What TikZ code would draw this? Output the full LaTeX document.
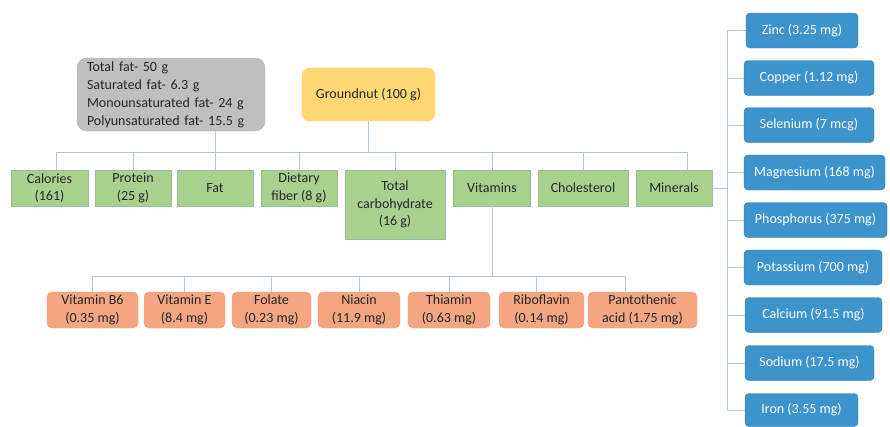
\documentclass[tikz,border=0pt]{standalone}
\usepackage{fontspec}
\setmainfont{Carlito}
\begin{document}
\begin{tikzpicture}[x=1pt,y=-1pt,
  every node/.style={font=\fontsize{14}{17.5}\selectfont, inner sep=0pt, align=center},
  gbox/.style={draw=green!35!black!40!white, fill=grfill, text=txt, minimum height=36pt},
  obox/.style={draw=orborder, fill=orfill, text=txt, rounded corners=5pt, minimum height=36pt},
  bbox/.style={draw=blborder, fill=blfill, text=white, rounded corners=4pt, minimum height=35pt},
  conn/.style={draw=lnclr, line width=1pt}]
\definecolor{grfill}{HTML}{A9D18E}
\definecolor{orfill}{HTML}{F4A582}
\definecolor{orborder}{HTML}{EE9A72}
\definecolor{blfill}{HTML}{3D94CC}
\definecolor{blborder}{HTML}{2E78B0}
\definecolor{lnclr}{HTML}{AFC8E8}
\definecolor{txt}{HTML}{262626}
\definecolor{gyfill}{HTML}{BFBFBF}
\definecolor{gnfill}{HTML}{FFD873}
\useasboundingbox (0,0) rectangle (890,426);
% top
\node[draw=gyfill!90!black, fill=gyfill, rounded corners=10pt, text=txt, minimum width=188pt, minimum height=73pt, align=left, text width=168pt, font=\fontsize{14}{18}\selectfont] (gray) at (171,94.5) {Total fat- 50 g\\Saturated fat- 6.3 g\\Monounsaturated fat- 24 g\\Polyunsaturated fat- 15.5 g};
\node[draw=gnfill!90!orange, fill=gnfill, rounded corners=8pt, text=txt, minimum width=133pt, minimum height=53pt] (gn) at (368.5,94.5) {Groundnut (100 g)};
% green row
\node[gbox, minimum width=77pt] (cal) at (49.5,188) {Calories\\(161)};
\node[gbox, minimum width=76pt] (pro) at (133,188) {Protein\\(25 g)};
\node[gbox, minimum width=76pt] (fat) at (215,188) {Fat};
\node[gbox, minimum width=76pt] (fib) at (299,188) {Dietary\\fiber (8 g)};
\node[gbox, minimum width=100pt, minimum height=69pt] (carb) at (395,204.5) {Total\\carbohydrate\\(16 g)};
\node[gbox, minimum width=77pt] (vit) at (492,188) {Vitamins};
\node[gbox, minimum width=90pt] (chol) at (583,188) {Cholesterol};
\node[gbox, minimum width=76pt] (min) at (674,188) {Minerals};
% orange row
\node[obox, minimum width=91pt] (b6) at (92.5,310) {Vitamin B6\\(0.35 mg)};
\node[obox, minimum width=81pt] (ve) at (184.5,310) {Vitamin E\\(8.4 mg)};
\node[obox, minimum width=79pt] (fol) at (271.5,310) {Folate\\(0.23 mg)};
\node[obox, minimum width=82pt] (nia) at (359,310) {Niacin\\(11.9 mg)};
\node[obox, minimum width=82pt] (thi) at (449,310) {Thiamin\\(0.63 mg)};
\node[obox, minimum width=85pt] (rib) at (541.5,310) {Riboflavin\\(0.14 mg)};
\node[obox, minimum width=109pt] (pan) at (642.5,310) {Pantothenic\\acid (1.75 mg)};
% blue column
\node[bbox, minimum width=112pt] (zn) at (802,30.5) {Zinc (3.25 mg)};
\node[bbox, minimum width=130pt] (cu) at (809,78) {Copper (1.12 mg)};
\node[bbox, minimum width=130pt] (se) at (809,125) {Selenium (7 mcg)};
\node[bbox, minimum width=141pt] (mg) at (814.5,172.5) {Magnesium (168 mg)};
\node[bbox, minimum width=143pt] (ph) at (815.5,220) {Phosphorus (375 mg)};
\node[bbox, minimum width=138pt] (k) at (813,267.5) {Potassium (700 mg)};
\node[bbox, minimum width=137pt] (ca) at (813.5,315) {Calcium (91.5 mg)};
\node[bbox, minimum width=129pt] (na) at (809.5,363) {Sodium (17.5 mg)};
\node[bbox, minimum width=113pt, minimum height=33pt] (fe) at (801.5,410) {Iron (3.55 mg)};
% connectors
\coordinate (bus) at (0,152);
\coordinate (vbus) at (0,276);
\coordinate (mx) at (727,0);
\coordinate (calc) at ([xshift=7pt]cal.north);
\coordinate (minc) at ([xshift=13pt]min.north);
\coordinate (ribc) at ([xshift=-5pt]rib.north);
\coordinate (panc) at ([xshift=-17pt]pan.north);
\draw[conn] (calc |- bus) -- (minc |- bus);
\draw[conn] (calc) -- (calc |- bus);
\draw[conn] (minc) -- (minc |- bus);
\foreach \n in {pro,fat,fib,carb,vit,chol} \draw[conn] (\n.north) -- (\n.north |- bus);
\draw[conn] (gn.south) -- (gn.south |- bus);
\draw[conn] (fat.north |- gray.south) -- (fat.north |- bus);
\draw[conn] (vit.south) -- (vit.south |- vbus);
\draw[conn] (b6.north |- vbus) -- (panc |- vbus);
\foreach \n in {b6,ve,fol,nia,thi} \draw[conn] (\n.north) -- (\n.north |- vbus);
\draw[conn] (ribc) -- (ribc |- vbus);
\draw[conn] (panc) -- (panc |- vbus);
\draw[conn] (min.east) -- (min.east -| mx);
\draw[conn] (zn.west -| mx) -- (fe.west -| mx);
\foreach \n in {zn,cu,se,mg,ph,k,ca,na,fe} \draw[conn] (\n.west) -- (\n.west -| mx);
\end{tikzpicture}
\end{document}
